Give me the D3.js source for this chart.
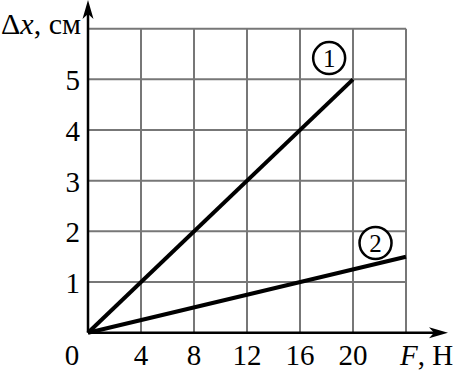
<!DOCTYPE html>
<html>
<head>
<meta charset="utf-8">
<script src="https://cdn.jsdelivr.net/npm/d3@7"></script>
<style>
  body { margin: 0; background: #fff; }
  text { font-family: "Liberation Serif", "Times New Roman", serif; fill: #000; }
</style>
</head>
<body>
<svg id="myGraph"></svg>
<script>
var width = 460;
var height = 372;

// data
var xTicks = [0, 4, 8, 12, 16, 20];
var yTicks = [1, 2, 3, 4, 5];
var gridX = [4, 8, 12, 16, 20, 24];
var gridY = [1, 2, 3, 4, 5, 6];
var line1 = [[0, 0], [20, 5]];
var line2 = [[0, 0], [24, 1.5]];
var labels = [{ name: "1", x: 18.2, y: 5.42 }, { name: "2", x: 21.7, y: 1.77 }];

var svg = d3.select("#myGraph")
                .attr("width", width)
                .attr("height", height);

var x = d3.scaleLinear().domain([0, 24]).range([88, 406]);
var y = d3.scaleLinear().domain([0, 6]).range([332.7, 28.7]);

// grid
svg.selectAll("line.gx")
    .data(gridX)
    .enter().append("line")
    .attr("x1", function(d){ return x(d); })
    .attr("x2", function(d){ return x(d); })
    .attr("y1", y(0))
    .attr("y2", y(6))
    .attr("stroke", "#777")
    .attr("stroke-width", 2);

svg.selectAll("line.gy")
    .data(gridY)
    .enter().append("line")
    .attr("x1", x(0))
    .attr("x2", x(24))
    .attr("y1", function(d){ return y(d); })
    .attr("y2", function(d){ return y(d); })
    .attr("stroke", "#777")
    .attr("stroke-width", 2);

// axes
svg.append("line")
    .attr("x1", x(0)).attr("x2", 440)
    .attr("y1", y(0)).attr("y2", y(0))
    .attr("stroke", "#000").attr("stroke-width", 2.5);
svg.append("line")
    .attr("x1", x(0)).attr("x2", x(0))
    .attr("y1", y(0)).attr("y2", 8)
    .attr("stroke", "#000").attr("stroke-width", 2.5);

// arrow heads
var ox = x(0), oy = y(0);
svg.append("path")
    .attr("d", "M448," + oy + " L429," + (oy - 5.5) + " L434," + oy + " L429," + (oy + 5.5) + " Z")
    .attr("fill", "#000");
svg.append("path")
    .attr("d", "M" + ox + ",0 L" + (ox - 5.5) + ",19 L" + ox + ",14 L" + (ox + 5.5) + ",19 Z")
    .attr("fill", "#000");

// data lines
var lineGen = d3.line()
    .x(function(d){ return x(d[0]); })
    .y(function(d){ return y(d[1]); });

[line1, line2].forEach(function(d){
    svg.append("path")
        .attr("d", lineGen(d))
        .attr("fill", "none")
        .attr("stroke", "#000")
        .attr("stroke-width", 4)
        .attr("stroke-linecap", "butt");
});

// tick labels
svg.selectAll("text.xt")
    .data(xTicks)
    .enter().append("text")
    .attr("x", function(d){ return d === 0 ? x(0) - 16 : x(d); })
    .attr("y", 365)
    .attr("text-anchor", "middle")
    .attr("font-size", 29)
    .text(function(d){ return d; });

svg.selectAll("text.yt")
    .data(yTicks)
    .enter().append("text")
    .attr("x", 80)
    .attr("y", function(d){ return y(d) + 11; })
    .attr("text-anchor", "end")
    .attr("font-size", 29)
    .text(function(d){ return d; });

// axis titles
var tx = svg.append("text")
    .attr("x", 1).attr("y", 34)
    .attr("font-size", 30);
tx.append("tspan").text("Δ");
tx.append("tspan").attr("font-style", "italic").text("x");
tx.append("tspan").text(", см");

var tf = svg.append("text")
    .attr("x", 400).attr("y", 365)
    .attr("font-size", 29);
tf.append("tspan").attr("font-style", "italic").text("F");
tf.append("tspan").text(", Н");

// circled labels
var lab = svg.selectAll("g.lab")
    .data(labels)
    .enter().append("g")
    .attr("transform", function(d){ return "translate(" + x(d.x) + "," + y(d.y) + ")"; });
lab.append("circle")
    .attr("r", 16)
    .attr("fill", "#fff")
    .attr("stroke", "#000")
    .attr("stroke-width", 2.5);
lab.append("text")
    .attr("text-anchor", "middle")
    .attr("y", 8.5)
    .attr("font-size", 25)
    .text(function(d){ return d.name; });
</script>
</body>
</html>
